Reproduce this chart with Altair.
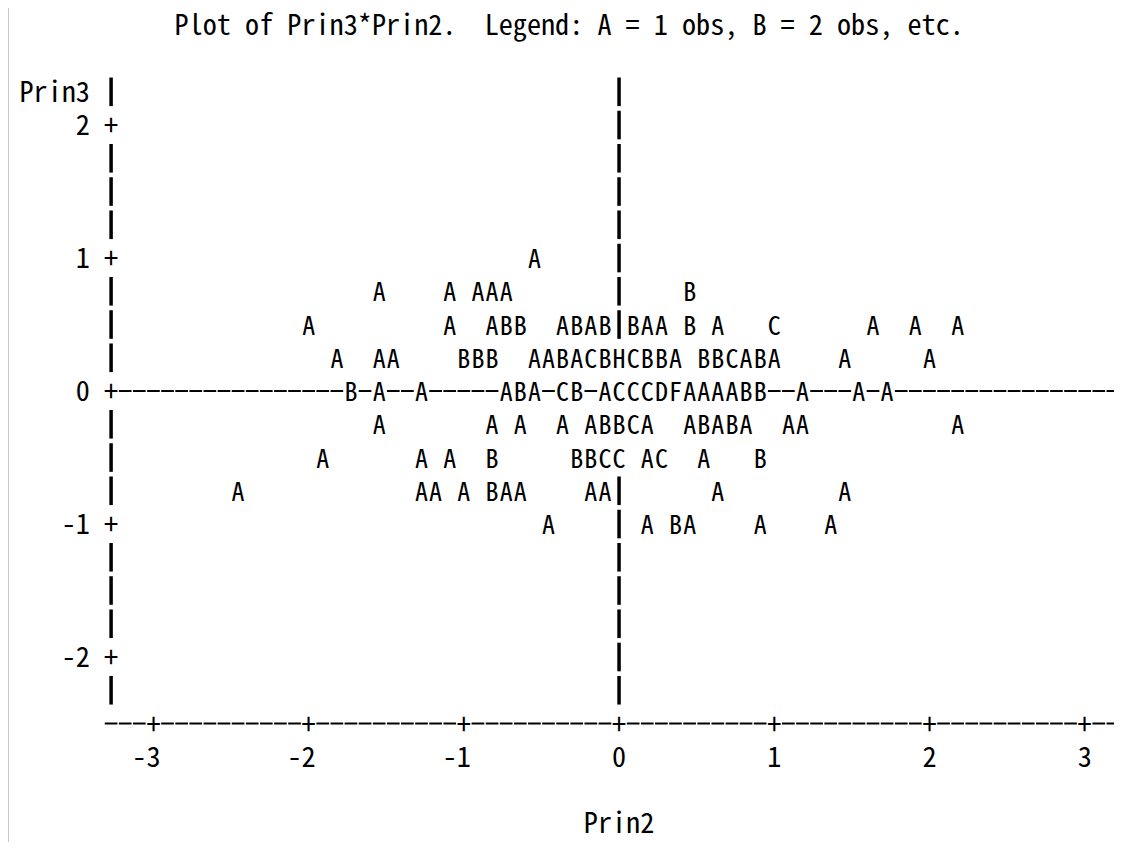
import altair as alt
import pandas as pd

# ---------------- data ----------------
# one plotting symbol per print position (A = 1 obs, B = 2 obs, ...)
row_prin3 = [1.0, 0.75, 0.5, 0.25, 0.0, -0.25, -0.5, -0.75, -1.0]
row_prin2 = [
    [-0.545],
    [-1.545, -1.091, -0.909, -0.818, -0.727, 0.455],
    [-2.0, -1.091, -0.818, -0.727, -0.636, -0.364, -0.273, -0.182, -0.091,
     0.091, 0.182, 0.273, 0.455, 0.636, 1.0, 1.636, 1.909, 2.182],
    [-1.818, -1.545, -1.455, -1.0, -0.909, -0.818, -0.545, -0.455, -0.364,
     -0.273, -0.182, -0.091, 0.0, 0.091, 0.182, 0.273, 0.364, 0.545, 0.636,
     0.727, 0.818, 0.909, 1.0, 1.455, 2.0],
    [-1.727, -1.545, -1.273, -0.727, -0.636, -0.545, -0.364, -0.273, -0.091,
     0.0, 0.091, 0.182, 0.273, 0.364, 0.455, 0.545, 0.636, 0.727, 0.818,
     0.909, 1.182, 1.545, 1.727],
    [-1.545, -0.818, -0.636, -0.364, -0.182, -0.091, 0.0, 0.091, 0.182,
     0.455, 0.545, 0.636, 0.727, 0.818, 1.091, 1.182, 2.182],
    [-1.909, -1.273, -1.091, -0.818, -0.273, -0.182, -0.091, 0.0, 0.182,
     0.273, 0.545, 0.909],
    [-2.455, -1.273, -1.182, -1.0, -0.818, -0.727, -0.636, -0.182, -0.091,
     0.636, 1.455],
    [-0.455, 0.182, 0.364, 0.455, 0.909, 1.364],
]
row_symbols = [
    "A",
    "AAAAAB",
    "AAABBABABBAABACAAA",
    "AAABBBAABACBHCBBABBCABAAA",
    "BAAABACBACCCDFAAAABBAAA",
    "AAAAABBCAABABAAAA",
    "AAABBBCCACAB",
    "AAAABAAAAAA",
    "AABAAA",
]

x_ticks = [-3, -2, -1, 0, 1, 2, 3]
y_ticks = [2, 1, 0, -1, -2]
title_text = "Plot of Prin3*Prin2.\u00a0 Legend: A = 1 obs, B = 2 obs, etc."
x_title = "Prin2"
y_title = "Prin3"

# ---------------- print grid ----------------
COL = 1 / 11      # one print column in Prin2 units
ROW = 0.25        # one print line in Prin3 units
AXIS_COL, RIGHT_COL = -36, 35
TOP_ROW, BOT_ROW, AXIS_ROW = 9, -9, -10

FONT = "Noto Sans Mono CJK JP"
FS = 28.2
FS_SYM = 26
W, H = 1106, 828
PAD_TOP = 6
X_DOM = [-3.937, 3.189]
Y_DOM = [-3.391, 2.835]

xs = alt.Scale(domain=X_DOM, nice=False, zero=False)
ys = alt.Scale(domain=Y_DOM, nice=False, zero=False)

recs = []
for y, xv, syms in zip(row_prin3, row_prin2, row_symbols):
    for x, s in zip(xv, syms):
        recs.append({"x": x, "y": y, "t": s})
obs = pd.DataFrame(recs)
occupied = {(round(r.x / COL), round(r.y / ROW)) for r in obs.itertuples()}

# vertical bars "|" : axis and reference line Prin2 = 0
bars = []
for j in range(BOT_ROW, TOP_ROW + 1):
    if j % 4 != 0:
        bars.append({"x": AXIS_COL * COL, "y": (j - 0.43) * ROW, "y2": (j + 0.43) * ROW})
    if j != 0 and (0, j) not in occupied:
        bars.append({"x": 0.0, "y": (j - 0.43) * ROW, "y2": (j + 0.43) * ROW})
bars = pd.DataFrame(bars)

# horizontal dashes "-" : reference line Prin3 = 0 and the horizontal axis
dashes = []
for k in range(AXIS_COL + 1, RIGHT_COL + 1):
    if (k, 0) not in occupied:
        dashes.append({"x": (k - 0.45) * COL, "x2": (k + 0.45) * COL, "y": 0.0})
for k in range(AXIS_COL, RIGHT_COL + 1):
    if k % 11 != 0:
        dashes.append({"x": (k - 0.45) * COL, "x2": (k + 0.45) * COL, "y": AXIS_ROW * ROW})
dashes = pd.DataFrame(dashes)

plus = pd.DataFrame(
    [{"x": AXIS_COL * COL, "y": float(t), "t": "+"} for t in y_ticks]
    + [{"x": float(t), "y": AXIS_ROW * ROW, "t": "+"} for t in x_ticks]
)
right_labels = pd.DataFrame(
    [{"x": (-37.5) * COL, "y": float(t), "t": str(t)} for t in y_ticks]
    + [{"x": (-37.5) * COL, "y": TOP_ROW * ROW, "t": y_title}]
    + [{"x": t + 0.5 * COL, "y": (AXIS_ROW - 1) * ROW, "t": str(t)} for t in x_ticks]
)
center_labels = pd.DataFrame([{"x": 0.0, "y": (AXIS_ROW - 3) * ROW, "t": x_title}])
title_df = pd.DataFrame([{"x": -31.5 * COL, "y": (TOP_ROW + 2) * ROW, "t": title_text}])


def text_layer(df, align, size=FS):
    return alt.Chart(df).mark_text(
        font=FONT, fontSize=size, color="black", align=align, baseline="middle", dy=2
    ).encode(
        x=alt.X("x:Q", scale=xs, axis=None),
        y=alt.Y("y:Q", scale=ys, axis=None),
        text="t:N",
    )


border = alt.Chart(pd.DataFrame({"a": [0]})).mark_rule(color="#c8c8c8", strokeWidth=2).encode(
    x=alt.value(0), y=alt.value(-PAD_TOP), y2=alt.value(H)
)
bar_layer = alt.Chart(bars).mark_rule(color="black", strokeWidth=3.5).encode(
    x=alt.X("x:Q", scale=xs, axis=None),
    y=alt.Y("y:Q", scale=ys, axis=None),
    y2="y2:Q",
)
dash_layer = alt.Chart(dashes).mark_rule(color="black", strokeWidth=2).encode(
    x=alt.X("x:Q", scale=xs, axis=None),
    x2="x2:Q",
    y=alt.Y("y:Q", scale=ys, axis=None),
)

chart = alt.layer(
    border,
    bar_layer,
    dash_layer,
    text_layer(plus, "center"),
    text_layer(right_labels, "right"),
    text_layer(center_labels, "center"),
    text_layer(title_df, "left"),
    text_layer(obs, "center", FS_SYM),
).properties(
    width=W, height=H,
    padding={"top": PAD_TOP, "left": 0, "right": 0, "bottom": 0},
    autosize=alt.AutoSizeParams(type="none"),
    background="white",
).configure_view(stroke=None)

chart.save("out.html", embed_options={"renderer": "svg", "actions": False})
